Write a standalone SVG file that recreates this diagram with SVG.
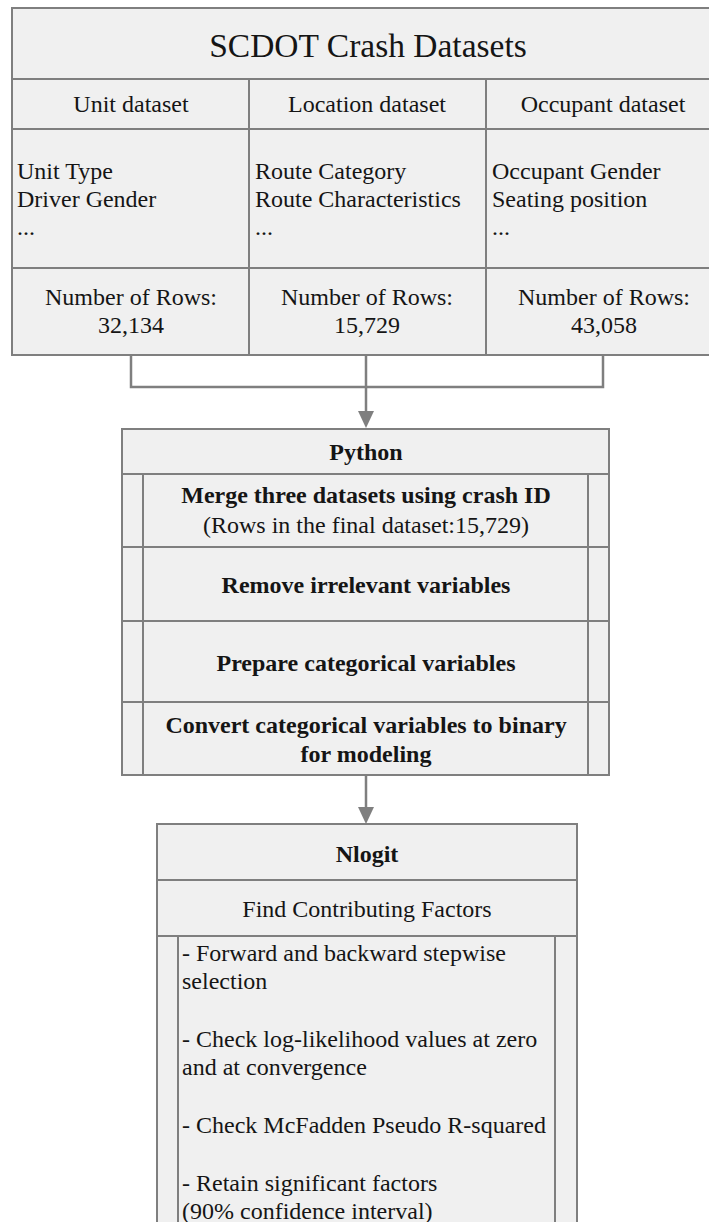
<svg xmlns="http://www.w3.org/2000/svg" width="709" height="1222" viewBox="0 0 709 1222">
<defs>
<style>
.box{fill:#f0f0f0;stroke:#7f7f7f;stroke-width:2}
.ln{stroke:#7f7f7f;stroke-width:2;fill:none}
.t{font-family:"Liberation Serif","Times New Roman",serif;font-size:24px;fill:#151515}
.c{text-anchor:middle}
.b{font-weight:bold}
.title{font-size:33.5px}
.conn{stroke:#7f7f7f;stroke-width:2.5;fill:none}
.head{fill:#7f7f7f}
</style>
</defs>
<rect width="709" height="1222" fill="#ffffff"/>

<g id="connectors">
<polyline class="conn" points="131,355 131,387 603,387 603,355"/>
<line class="conn" x1="366" y1="355" x2="366" y2="412"/>
<path class="head" d="M358,411 L374,411 L366,428 Z"/>
<line class="conn" x1="366" y1="775" x2="366" y2="808"/>
<path class="head" d="M358,807 L374,807 L366,824 Z"/>
</g>

<g id="scdot">
<rect class="box" x="12" y="8" width="710" height="347"/>
<line class="ln" x1="12" y1="79" x2="722" y2="79"/>
<line class="ln" x1="12" y1="129" x2="722" y2="129"/>
<line class="ln" x1="12" y1="268" x2="722" y2="268"/>
<line class="ln" x1="249" y1="79" x2="249" y2="355"/>
<line class="ln" x1="486" y1="79" x2="486" y2="355"/>
<text class="t c title" x="368" y="57">SCDOT Crash Datasets</text>
</g>

<g id="unit">
<text class="t c" x="131" y="112">Unit dataset</text>
<text class="t" x="17" y="179">Unit Type</text>
<text class="t" x="17" y="207">Driver Gender</text>
<text class="t" x="17" y="235">...</text>
<text class="t c" x="131" y="305">Number of Rows:</text>
<text class="t c" x="131" y="333">32,134</text>
</g>

<g id="location">
<text class="t c" x="367" y="112">Location dataset</text>
<text class="t" x="255" y="179">Route Category</text>
<text class="t" x="255" y="207">Route Characteristics</text>
<text class="t" x="255" y="235">...</text>
<text class="t c" x="367" y="305">Number of Rows:</text>
<text class="t c" x="367" y="333">15,729</text>
</g>

<g id="occupant">
<text class="t c" x="603" y="112">Occupant dataset</text>
<text class="t" x="492" y="179">Occupant Gender</text>
<text class="t" x="492" y="207">Seating position</text>
<text class="t" x="492" y="235">...</text>
<text class="t c" x="604" y="305">Number of Rows:</text>
<text class="t c" x="604" y="333">43,058</text>
</g>

<g id="python">
<rect class="box" x="122" y="429" width="487" height="346"/>
<line class="ln" x1="122" y1="474" x2="609" y2="474"/>
<line class="ln" x1="122" y1="547" x2="609" y2="547"/>
<line class="ln" x1="122" y1="621" x2="609" y2="621"/>
<line class="ln" x1="122" y1="702" x2="609" y2="702"/>
<line class="ln" x1="143" y1="474" x2="143" y2="775"/>
<line class="ln" x1="588" y1="474" x2="588" y2="775"/>
<text class="t c b" x="366" y="460">Python</text>
<text class="t c b" x="366" y="503">Merge three datasets using crash ID</text>
<text class="t c" x="366" y="533">(Rows in the final dataset:15,729)</text>
<text class="t c b" x="366" y="593">Remove irrelevant variables</text>
<text class="t c b" x="366" y="671">Prepare categorical variables</text>
<text class="t c b" x="366" y="733">Convert categorical variables to binary</text>
<text class="t c b" x="366" y="762">for modeling</text>
</g>

<g id="nlogit">
<rect class="box" x="157" y="824" width="420" height="420"/>
<line class="ln" x1="157" y1="880" x2="577" y2="880"/>
<line class="ln" x1="157" y1="936" x2="577" y2="936"/>
<line class="ln" x1="178" y1="936" x2="178" y2="1244"/>
<line class="ln" x1="555" y1="936" x2="555" y2="1244"/>
<text class="t c b" x="367" y="862">Nlogit</text>
<text class="t c" x="367" y="917">Find Contributing Factors</text>
<text class="t" x="182" y="961">- Forward and backward stepwise</text>
<text class="t" x="182" y="989">selection</text>
<text class="t" x="182" y="1047">- Check log-likelihood values at zero</text>
<text class="t" x="182" y="1075">and at convergence</text>
<text class="t" x="182" y="1133">- Check McFadden Pseudo R-squared</text>
<text class="t" x="182" y="1191">- Retain significant factors</text>
<text class="t" x="182" y="1219">(90% confidence interval)</text>
</g>
</svg>
